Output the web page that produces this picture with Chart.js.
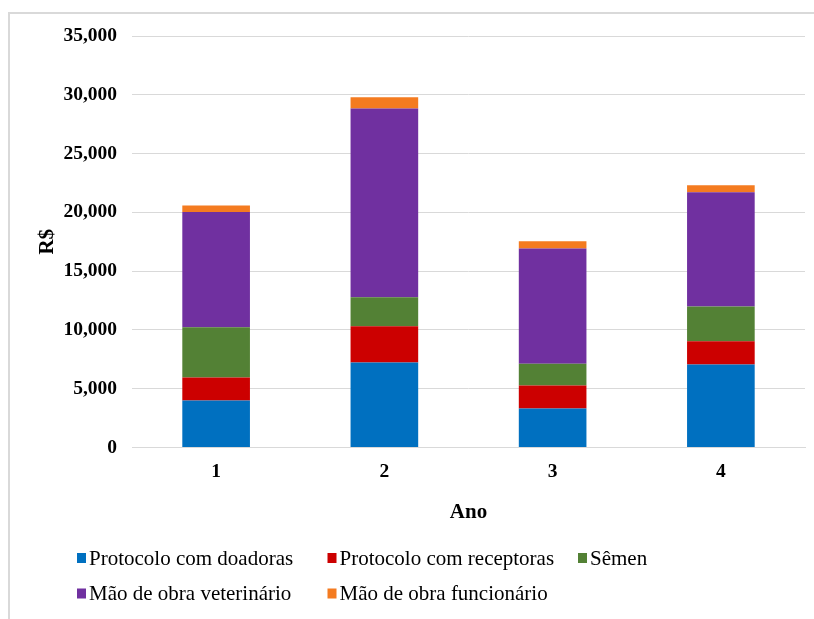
<!DOCTYPE html>
<html>
<head>
<meta charset="utf-8">
<script src="https://cdn.jsdelivr.net/npm/chart.js@4"></script>
<style>
  html, body { margin: 0; padding: 0; background: #ffffff; }
  #wrap { position: relative; width: 814px; height: 619px; overflow: hidden; }
  #frame { position: absolute; left: 8px; top: 12px; width: 900px; height: 700px;
           border-left: 2px solid #d9d9d9; border-top: 2px solid #d9d9d9; }
  #c { position: absolute; left: 0; top: 0; }
</style>
</head>
<body>
<div id="wrap">
  <div id="frame"></div>
  <canvas id="c" width="814" height="619"></canvas>
</div>
<script>
// Custos por ano (R$)
const categories = ['1', '2', '3', '4'];
const seriesNames = [
  'Protocolo com doadoras',
  'Protocolo com receptoras',
  'Sêmen',
  'Mão de obra veterinário',
  'Mão de obra funcionário'
];
const protocoloDoadoras   = [4000, 7230, 3320, 7060];
const protocoloReceptoras = [1950, 3080, 1950, 1980];
const semen               = [4280, 2470, 1850, 2950];
const maoObraVeterinario  = [9810, 16050, 9800, 9720];
const maoObraFuncionario  = [540, 960, 620, 590];
const yTickMax = 35000;
const yTickStep = 5000;

const colors = ['#0070C0', '#CC0000', '#538135', '#7030A0', '#F47B20'];
const serif = "'Liberation Serif', 'Times New Roman', serif";

// Legend drawn under the plot in a three-column grid
const gridLegend = {
  id: 'gridLegend',
  afterDraw(chart) {
    const ctx = chart.ctx;
    const startX = 77, colW = 250.5, rowY = [558, 593.5], cols = 3;
    ctx.save();
    ctx.font = "21px " + serif;
    ctx.textBaseline = 'middle';
    ctx.textAlign = 'left';
    chart.data.datasets.forEach((ds, i) => {
      const x = startX + (i % cols) * colW;
      const y = rowY[Math.floor(i / cols)];
      ctx.fillStyle = ds.backgroundColor;
      ctx.fillRect(x, y - 5, 9, 10);
      ctx.fillStyle = '#000000';
      ctx.fillText(ds.label, x + 12, y + 1);
    });
    ctx.restore();
  }
};

const seriesValues = [protocoloDoadoras, protocoloReceptoras, semen, maoObraVeterinario, maoObraFuncionario];

new Chart(document.getElementById('c'), {
  type: 'bar',
  data: {
    labels: categories,
    datasets: seriesValues.map((vals, i) => ({
      label: seriesNames[i],
      data: vals,
      backgroundColor: colors[i],
      borderWidth: 0,
      barPercentage: 1,
      categoryPercentage: 0.402
    }))
  },
  options: {
    responsive: false,
    animation: false,
    devicePixelRatio: 1,
    layout: { padding: { left: 20, right: 9, top: 36, bottom: 91.5 } },
    plugins: {
      legend: { display: false },
      tooltip: { enabled: false }
    },
    scales: {
      x: {
        stacked: true,
        grid: { display: false, drawTicks: false },
        border: { display: true, color: '#d9d9d9', width: 1 },
        ticks: { color: '#000', padding: 13, font: { family: serif, size: 19.5, weight: 'bold' } },
        title: {
          display: true, text: 'Ano', color: '#000',
          font: { family: serif, size: 21, weight: 'bold' },
          padding: { top: 0, bottom: 2 }
        },
        afterFit(scale) { scale.height = 80; }
      },
      y: {
        stacked: true,
        min: 0,
        max: yTickMax,
        grid: { color: '#d9d9d9', lineWidth: 1, drawTicks: false },
        border: { display: false },
        ticks: {
          stepSize: yTickStep,
          padding: 15,
          color: '#000',
          font: { family: serif, size: 19.5, weight: 'bold' },
          callback: (v) => v.toLocaleString('en-US')
        },
        title: {
          display: true, text: 'R$', color: '#000',
          font: { family: serif, size: 21, weight: 'bold' },
          padding: { top: 15, bottom: 0 }
        },
        afterFit(scale) { scale.width = 112; }
      }
    }
  },
  plugins: [gridLegend]
});
</script>
</body>
</html>
